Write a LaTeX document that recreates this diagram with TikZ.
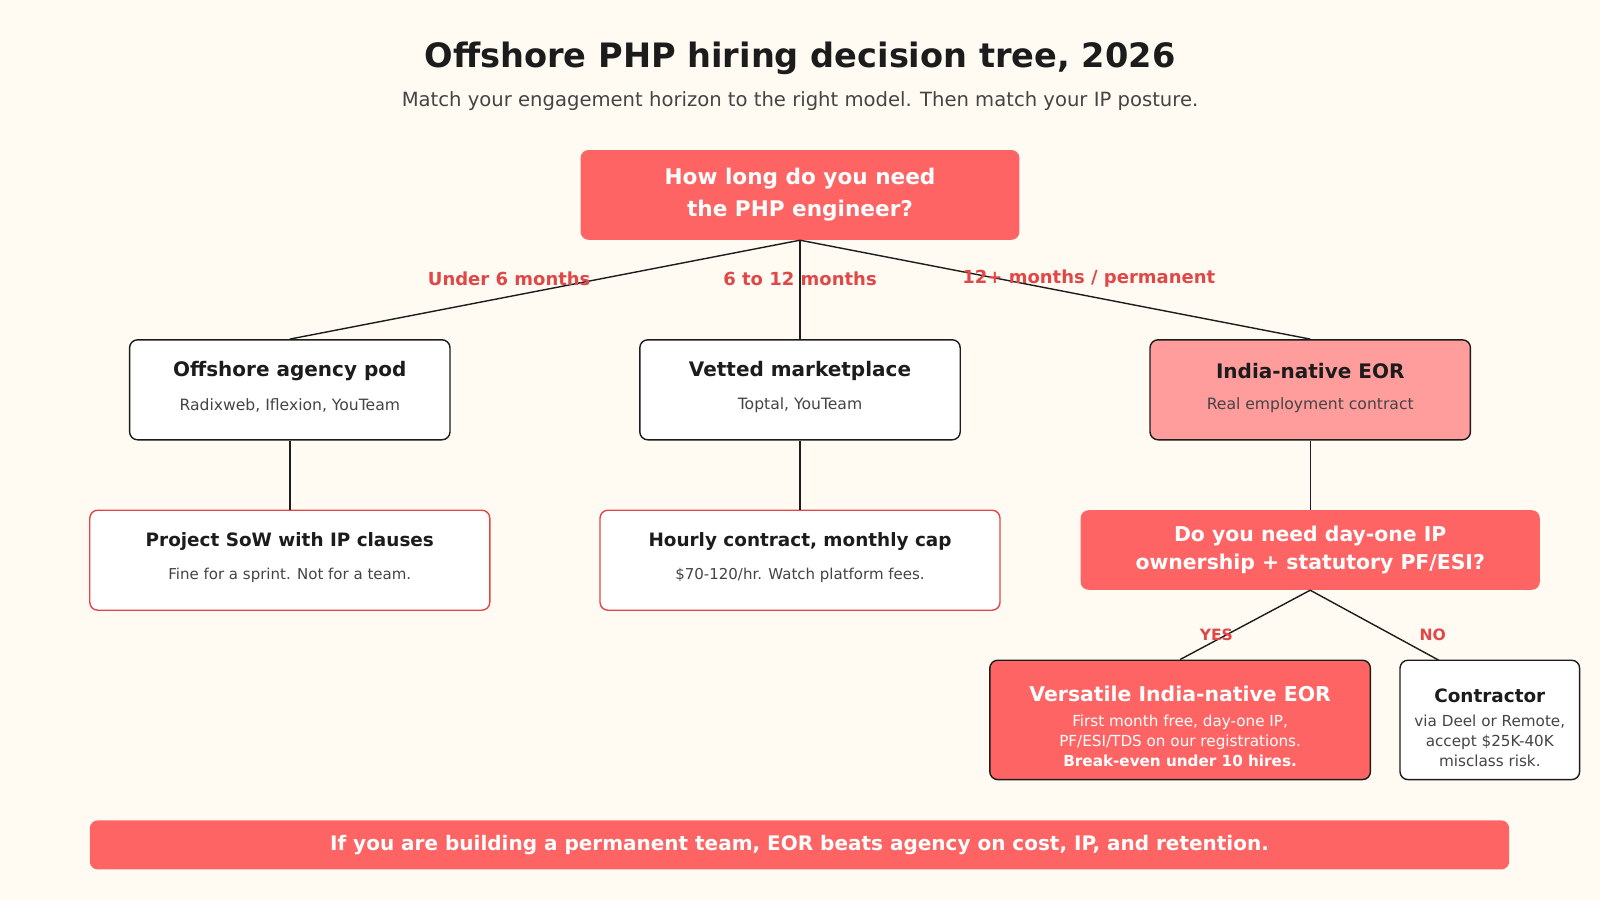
\documentclass[tikz,border=0pt]{standalone}
\usepackage{fontspec}
\setmainfont{DejaVu Sans}
\usetikzlibrary{positioning}
\definecolor{bgcol}{HTML}{FFFBF3}
\definecolor{coral}{HTML}{FF6464}
\definecolor{pinkish}{HTML}{FF9C9C}
\definecolor{redtxt}{HTML}{E04848}
\definecolor{ink}{HTML}{1C1C1C}
\definecolor{greytxt}{HTML}{444444}
\begin{document}
\begin{tikzpicture}[
		x=0.5102pt, y=-0.5102pt,
		box/.style    ={draw=ink, line width=0.7pt, rounded corners=4pt, fill=white, inner sep=0pt},
		redbox/.style ={draw=redtxt, line width=0.7pt, rounded corners=4pt, fill=white, inner sep=0pt},
		hotbox/.style ={fill=coral, rounded corners=4pt, inner sep=0pt},
		head/.style   ={font=\fontsize{10}{12}\selectfont\bfseries, text=ink, inner sep=0pt},
		sub/.style    ={font=\fontsize{7.8}{9.7}\selectfont, text=greytxt, inner sep=0pt, align=center},
		whead/.style  ={font=\fontsize{10.5}{14}\selectfont\bfseries, text=white, inner sep=0pt, align=center},
		branch/.style ={font=\fontsize{9}{11}\selectfont\bfseries, text=redtxt, inner sep=0pt},
		link/.style   ={draw=ink, line width=0.7pt}
		]
		\fill[bgcol] (0,0) rectangle (1568,882);

		% --- Title ---
		\node[font=\fontsize{16.8}{20}\selectfont\bfseries, text=ink] (title) at (784,57) {Offshore PHP hiring decision tree, 2026};
		\node[font=\fontsize{9.8}{12}\selectfont, text=greytxt] (subtitle) at (784,99) {Match your engagement horizon to the right model. Then match your IP posture.};

		% --- Root question ---
		\node[hotbox, minimum width=219.4pt, minimum height=44.9pt] (root) at (784,191) {};
		\node[whead, font=\fontsize{10.8}{15.8}\selectfont\bfseries] at (root) {How long do you need\\the PHP engineer?};

		% --- Level 2 ---
		\node[box, minimum width=160.2pt, minimum height=50pt] (agency) at (284,382) {};
		\node[box, minimum width=160.2pt, minimum height=50pt] (market) at (784,382) {};
		\node[box, fill=pinkish, minimum width=160.2pt, minimum height=50pt] (eor) at (1284,382) {};
		\node[head] at (284,364) {Offshore agency pod};
		\node[sub]  at (284,397) {Radixweb, Iflexion, YouTeam};
		\node[head] at (784,364) {Vetted marketplace};
		\node[sub]  at (784,397) {Toptal, YouTeam};
		\node[head] at (1284,364) {India-native EOR};
		\node[sub]  at (1284,397) {Real employment contract};

		\draw[link] (root.south) -- (agency.north);
		\draw[link] (root.south) -- (market.north);
		\draw[link] (root.south) -- (eor.north);
		\node[branch] at (499,273) {Under 6 months};
		\node[branch] at (784,273) {6 to 12 months};
		\node[branch] at (1067,273) {12+ months / permanent};

		% --- Level 3 ---
		\node[redbox, minimum width=200pt, minimum height=50pt] (sow) at (284,549) {};
		\node[redbox, minimum width=200pt, minimum height=50pt] (hourly) at (784,549) {};
		\node[head, font=\fontsize{9.2}{11}\selectfont\bfseries] at (284,531) {Project SoW with IP clauses};
		\node[sub, font=\fontsize{7.5}{9}\selectfont] at (284,564) {Fine for a sprint. Not for a team.};
		\node[head, font=\fontsize{9.2}{11}\selectfont\bfseries] at (784,531) {Hourly contract, monthly cap};
		\node[sub, font=\fontsize{7.5}{9}\selectfont] at (784,564) {\$70-120/hr. Watch platform fees.};

		\node[hotbox, minimum width=229.6pt, minimum height=39.8pt] (ipq) at (1284,539) {};
		\node[whead, font=\fontsize{10.2}{13.8}\selectfont\bfseries] at (ipq) {Do you need day-one IP\\ownership + statutory PF/ESI?};

		\draw[link] (agency.south) -- (sow.north);
		\draw[link] (market.south) -- (hourly.north);
		\draw[link] (eor.south) -- (ipq.north);

		% --- IP branches ---
		\node[box, fill=coral, minimum width=190.3pt, minimum height=59.7pt] (versatile) at (1156.5,705.5) {};
		\node[box, minimum width=89.8pt, minimum height=59.7pt] (contractor) at (1460,705.5) {};
		\coordinate (contop) at (1410,647);
		\draw[link] (ipq.south) -- (versatile.north);
		\draw[link] (ipq.south) -- (contop);
		\node[branch, font=\fontsize{7.8}{9}\selectfont\bfseries] at (1192,622) {YES};
		\node[branch, font=\fontsize{7.8}{9}\selectfont\bfseries] at (1404,622) {NO};

		\node[whead, font=\fontsize{10.2}{12}\selectfont\bfseries] at (1156.5,680) {Versatile India-native EOR};
		\node[sub, text=white, font=\fontsize{7.6}{10}\selectfont] at (1156.5,726) {First month free, day-one IP,\\PF/ESI/TDS on our registrations.\\\textbf{Break-even under 10 hires.}};
		\node[head, font=\fontsize{9.2}{11}\selectfont\bfseries] at (1460,682) {Contractor};
		\node[sub, font=\fontsize{7.6}{10}\selectfont] at (1460,726) {via Deel or Remote,\\accept \$25K-40K\\misclass risk.};

		% --- Bottom banner ---
		\node[hotbox, minimum width=709.7pt, minimum height=24.5pt] (banner) at (783.5,828) {};
		\node[whead, font=\fontsize{10}{12}\selectfont\bfseries] at (banner) {If you are building a permanent team, EOR beats agency on cost, IP, and retention.};
	\end{tikzpicture}
\end{document}
